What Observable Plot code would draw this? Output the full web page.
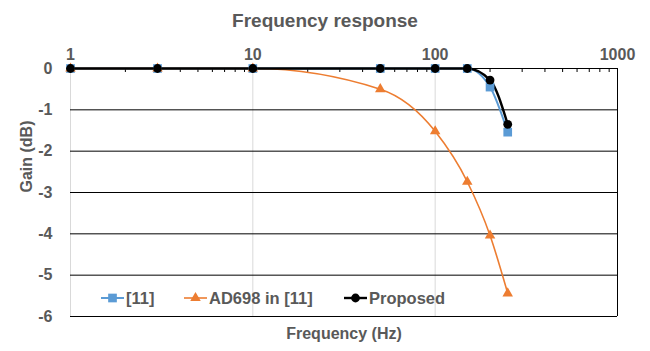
<!DOCTYPE html>
<html>
<head>
<meta charset="utf-8">
<script src="https://cdn.jsdelivr.net/npm/d3@7"></script>
<script src="https://cdn.jsdelivr.net/npm/@observablehq/plot@0.6"></script>
<style>
  html, body { margin: 0; padding: 0; background: #fff; }
  #wrap { position: relative; width: 650px; height: 351px; font-family: "Liberation Sans", Arial, sans-serif; color: #595959; }
  #title { height: 36px; box-sizing: border-box; padding-top: 6px; line-height: 30px; text-align: center; font-size: 19px; font-weight: bold; }
  .leg { position: absolute; display: flex; align-items: center; font-size: 16.5px; font-weight: bold; }
  .leg svg { display: block; margin-right: 1px; }
</style>
</head>
<body>
<div id="wrap">
  <div id="title">Frequency response</div>
  <div id="chart"></div>
  <div id="legend"></div>
</div>
<script>
const freq = [1, 3, 10, 50, 100, 150, 200, 250];
const ref11 = [0, 0, 0, 0, 0, 0, -0.45, -1.54];
const ad698 = [0, 0, 0, -0.5, -1.52, -2.74, -4.04, -5.44];
const proposed = [0, 0, 0, 0, 0, 0, -0.28, -1.35];
const seriesNames = ["[11]", "AD698 in [11]", "Proposed"];
const xTicks = [1, 10, 100, 1000];
const yTicks = [0, -1, -2, -3, -4, -5, -6];
const minorTicks = [2, 3, 4, 5, 6, 7, 8, 9, 20, 30, 40, 50, 60, 70, 80, 90, 200, 300, 400, 500, 600, 700, 800, 900];
const xTitle = "Frequency (Hz)";
const yTitle = "Gain (dB)";

const seriesValues = [ref11, ad698, proposed];
const colors = ["#5B9BD5", "#ED7D31", "#000000"];
const symbols = ["square", "triangle", "circle"];
const radii = [4.9, 3.9, 4.4];
const widths = [2, 1.6, 2.4];

const rows = seriesNames.map((name, i) => freq.map((f, j) => ({freq: f, gain: seriesValues[i][j], series: name})));

const H = 315, MT = 32, MB = 35;
const seriesMarks = [];
rows.forEach((data, i) => {
  seriesMarks.push(Plot.line(data, {x: "freq", y: "gain", stroke: colors[i], strokeWidth: widths[i], curve: "monotone-x"}));
});
rows.forEach((data, i) => {
  seriesMarks.push(Plot.dot(data, {x: "freq", y: "gain", symbol: symbols[i], r: radii[i], fill: colors[i], stroke: "none"}));
});

const chart = Plot.plot({
  width: 650,
  height: H,
  marginTop: MT,
  marginBottom: MB,
  marginLeft: 70,
  marginRight: 33,
  style: {fontFamily: "'Liberation Sans', Arial, sans-serif", fontSize: "16px", fontWeight: "bold", color: "#595959", background: "#fff"},
  x: {type: "log", domain: [1, 1000]},
  y: {domain: [-6, 0]},
  marks: [
    Plot.ruleX(xTicks.slice(0, 3), {stroke: "#d9d9d9", strokeWidth: 1}),
    Plot.ruleX(xTicks.slice(3), {stroke: "#000", strokeWidth: 1}),
    Plot.ruleY(yTicks, {stroke: "#000", strokeWidth: 1}),
    Plot.ruleX(minorTicks, {stroke: "#000", strokeWidth: 1, insetBottom: H - MT - MB - 4}),
    Plot.axisX({anchor: "top", ticks: xTicks, tickSize: 0, tickPadding: 9, tickFormat: d => String(d), label: null}),
    Plot.axisY({anchor: "left", ticks: yTicks, tickSize: 0, tickPadding: 18, tickFormat: d => String(d), label: null}),
    Plot.text([xTitle], {frameAnchor: "bottom", dy: 17, text: d => d, lineAnchor: "middle", fill: "#595959", fontSize: 16}),
    Plot.text([yTitle], {frameAnchor: "left", dx: -44, rotate: -90, text: d => d, lineAnchor: "middle", fill: "#595959", fontSize: 16}),
    ...seriesMarks
  ]
});
document.getElementById("chart").appendChild(chart);

// Legend (inside plot area, bottom-left)
const legendPos = [100, 183, 343];
const legend = document.getElementById("legend");
seriesNames.forEach((name, i) => {
  const div = document.createElement("div");
  div.className = "leg";
  div.style.left = legendPos[i] + "px";
  div.style.top = "288px";
  div.style.height = "20px";
  const sw = d3.create("svg").attr("width", 25).attr("height", 20);
  sw.append("line").attr("x1", 1).attr("x2", 24).attr("y1", 10).attr("y2", 10).attr("stroke", colors[i]).attr("stroke-width", widths[i]);
  const sym = {square: d3.symbolSquare, triangle: d3.symbolTriangle, circle: d3.symbolCircle}[symbols[i]];
  sw.append("path").attr("transform", "translate(12.5,10)").attr("d", d3.symbol(sym, Math.PI * radii[i] * radii[i])()).attr("fill", colors[i]);
  div.appendChild(sw.node());
  const span = document.createElement("span");
  span.textContent = name;
  div.appendChild(span);
  legend.appendChild(div);
});
</script>
</body>
</html>
